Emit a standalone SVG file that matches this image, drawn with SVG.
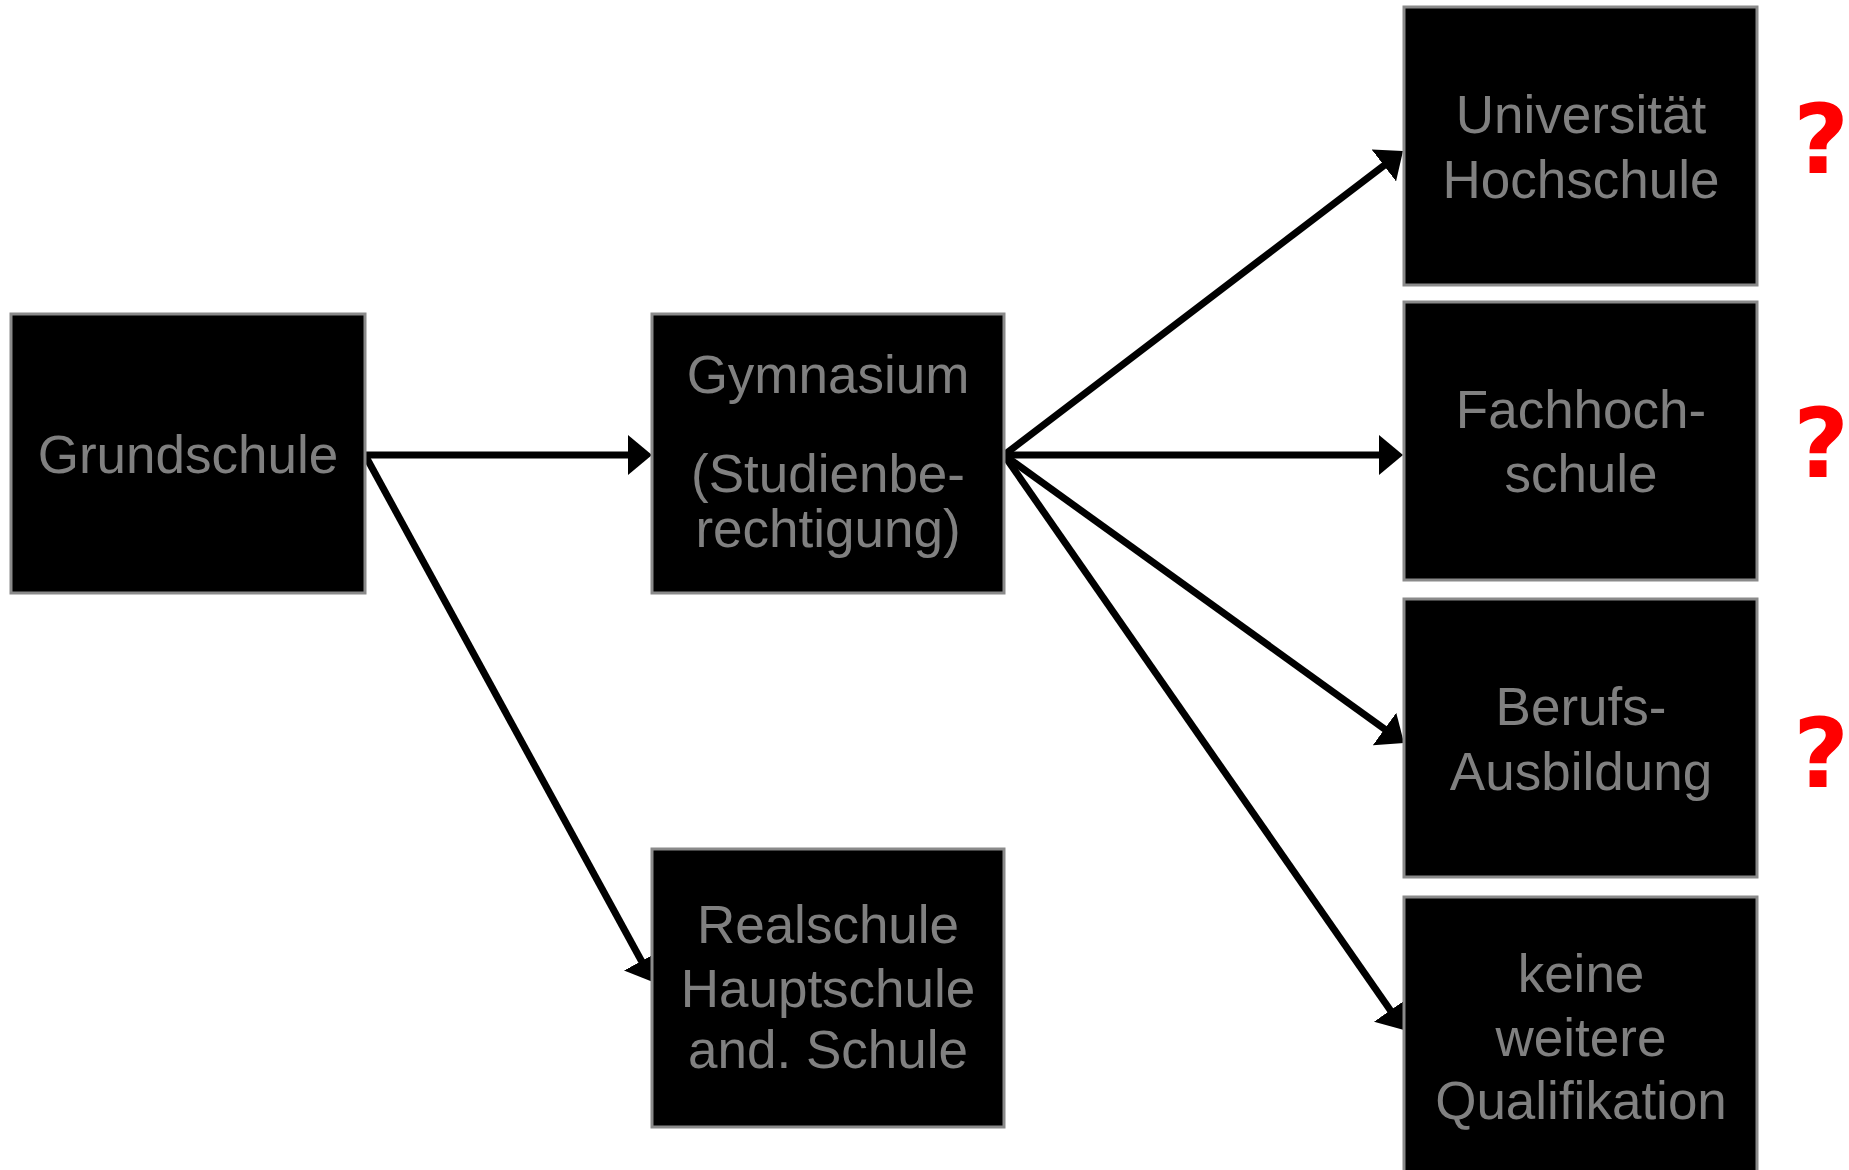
<svg xmlns="http://www.w3.org/2000/svg" width="1849" height="1170" viewBox="0 0 1849 1170">
<style>
.box{fill:#000;stroke:#8a8a8a;stroke-width:3}
.lbl{font-family:"Liberation Sans",Arial,sans-serif;font-size:53px;fill:#808080;text-anchor:middle}
.q{font-family:"DejaVu Sans",sans-serif;font-weight:bold;font-size:96px;fill:#ff0000;text-anchor:middle}
.con{stroke:#000;stroke-width:7;fill:none}
</style>
<defs>
<marker id="ah" markerUnits="userSpaceOnUse" viewBox="0 0 24 40" markerWidth="24" markerHeight="40" refX="4" refY="20" orient="auto">
<path d="M0,0 L24,20 L0,40 z" fill="#000"/>
</marker>
</defs>
<rect width="1849" height="1170" fill="#fff"/>
<g id="connectors">
<line class="con" x1="365" y1="455" x2="632" y2="455" marker-end="url(#ah)"/>
<line class="con" x1="365" y1="455" x2="643.4" y2="964.5" marker-end="url(#ah)"/>
<line class="con" x1="1004" y1="455" x2="1387.1" y2="163.1" marker-end="url(#ah)"/>
<line class="con" x1="1004" y1="455" x2="1383" y2="455" marker-end="url(#ah)"/>
<line class="con" x1="1004" y1="455" x2="1387.8" y2="731.3" marker-end="url(#ah)"/>
<line class="con" x1="1004" y1="455" x2="1392.6" y2="1013.6" marker-end="url(#ah)"/>
</g>
<g id="grundschule">
<rect class="box" x="11" y="314" width="354" height="279"/>
<text class="lbl" x="188" y="473">Grundschule</text>
</g>
<g id="gymnasium">
<rect class="box" x="652" y="314" width="352" height="279"/>
<text class="lbl" x="828" y="393">Gymnasium</text>
<text class="lbl" x="828" y="492">(Studienbe-</text>
<text class="lbl" x="828" y="547">rechtigung)</text>
</g>
<g id="realschule">
<rect class="box" x="652" y="849" width="352" height="278"/>
<text class="lbl" x="828" y="943">Realschule</text>
<text class="lbl" x="828" y="1007">Hauptschule</text>
<text class="lbl" x="828" y="1068">and. Schule</text>
</g>
<g id="universitaet">
<rect class="box" x="1404" y="7" width="353" height="278"/>
<text class="lbl" x="1581" y="133">Universität</text>
<text class="lbl" x="1581" y="198">Hochschule</text>
</g>
<g id="fachhochschule">
<rect class="box" x="1404" y="302" width="353" height="278"/>
<text class="lbl" x="1581" y="428">Fachhoch-</text>
<text class="lbl" x="1581" y="492">schule</text>
</g>
<g id="berufsausbildung">
<rect class="box" x="1404" y="599" width="353" height="278"/>
<text class="lbl" x="1581" y="725">Berufs-</text>
<text class="lbl" x="1581" y="790">Ausbildung</text>
</g>
<g id="keine">
<rect class="box" x="1404" y="897" width="353" height="290"/>
<text class="lbl" x="1581" y="992">keine</text>
<text class="lbl" x="1581" y="1056">weitere</text>
<text class="lbl" x="1581" y="1119">Qualifikation</text>
</g>
<g id="marks">
<text class="q" x="1821" y="173">?</text>
<text class="q" x="1821" y="477">?</text>
<text class="q" x="1821" y="787">?</text>
</g>
</svg>
